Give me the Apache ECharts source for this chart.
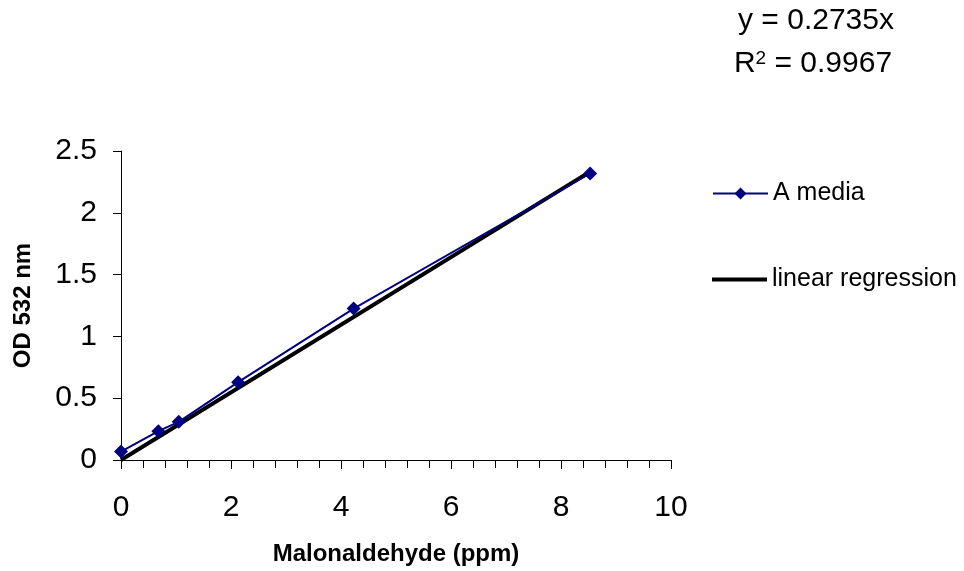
<!DOCTYPE html>
<html><head><meta charset="utf-8">
<script src="https://cdn.jsdelivr.net/npm/echarts@6/dist/echarts.min.js"></script>
<style>html,body{margin:0;padding:0;background:#fff}#c{width:964px;height:571px}</style>
</head><body><div id="c"></div>
<script>
const conc = [0, 0.68, 1.05, 2.13, 4.23, 8.53];
const od = [0.068, 0.233, 0.309, 0.630, 1.225, 2.318];
const regX = [0, 8.53];
const regY = [0, 2.333];
const xTicks = [0, 2, 4, 6, 8, 10];
const yTicks = [0, 0.5, 1, 1.5, 2, 2.5];
const eqText = 'y = 0.2735x';
const r2Text = '0.9967';

const ff = '"Liberation Sans", Arial, sans-serif';
const ch = echarts.init(document.getElementById('c'));
ch.setOption({
  animation: false,
  backgroundColor: '#fff',
  grid: {left: 121, right: 293, top: 151, bottom: 109},
  xAxis: {
    type: 'value', min: xTicks[0], max: xTicks[xTicks.length-1], interval: 2,
    name: 'Malonaldehyde (ppm)', nameLocation: 'middle', nameGap: 82,
    nameTextStyle: {fontFamily: ff, fontWeight: 'bold', fontSize: 24, color: '#000'},
    axisLine: {lineStyle: {color: '#000', width: 1}},
    axisTick: {show: true, inside: false, length: 9, lineStyle: {color: '#000'}},
    minorTick: {show: true, splitNumber: 5, length: 8, lineStyle: {color: '#000'}},
    splitLine: {show: false},
    axisLabel: {fontFamily: ff, fontSize: 30, color: '#000', margin: 33}
  },
  yAxis: {
    type: 'value', min: yTicks[0], max: yTicks[yTicks.length-1], interval: 0.5,
    name: 'OD 532 nm', nameLocation: 'middle', nameGap: 86,
    nameTextStyle: {fontFamily: ff, fontWeight: 'bold', fontSize: 24, color: '#000'},
    axisLine: {show: true, lineStyle: {color: '#000', width: 1}},
    axisTick: {show: true, inside: false, length: 8, lineStyle: {color: '#000'}},
    splitLine: {show: false},
    axisLabel: {fontFamily: ff, fontSize: 30, color: '#000', margin: 24}
  },
  legend: [
    {
      orient: 'vertical', left: 712, top: 181, padding: 0,
      itemWidth: 55, itemHeight: 15,
      textStyle: {fontFamily: ff, fontSize: 25, color: '#000'},
      data: [{name: 'A media'}]
    },
    {
      orient: 'vertical', left: 712, top: 267, padding: 0,
      itemWidth: 55, itemHeight: 4, icon: 'rect',
      textStyle: {fontFamily: ff, fontSize: 25, color: '#000'},
      data: [{name: 'linear regression'}]
    }
  ],
  graphic: [
    {type: 'text', x: 816, y: 6, style: {text: eqText, font: '30px "Liberation Sans", Arial', fill: '#000', align: 'center'}},
    {type: 'text', x: 813, y: 49, style: {
      text: 'R{sup|2} = ' + r2Text, align: 'center',
      font: '30px "Liberation Sans", Arial', fill: '#000',
      rich: {sup: {fontSize: 19, fontFamily: '"Liberation Sans", Arial', verticalAlign: 'top', lineHeight: 30, padding: [0, 0, 16, 0]}}
    }}
  ],
  series: [
    {
      name: 'linear regression', type: 'line', symbol: 'none',
      lineStyle: {color: '#000', width: 4}, itemStyle: {color: '#000'},
      data: regX.map((x, i) => [x, regY[i]]), z: 2
    },
    {
      name: 'A media', type: 'line', symbol: 'diamond', symbolSize: 14,
      lineStyle: {color: '#000080', width: 2}, itemStyle: {color: '#000080'},
      data: conc.map((x, i) => [x, od[i]]), z: 3
    }
  ]
});
</script></body></html>
